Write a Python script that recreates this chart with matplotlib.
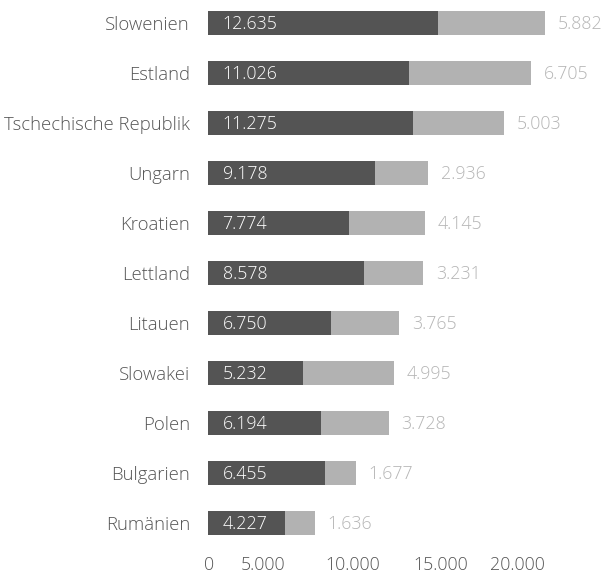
import matplotlib
matplotlib.use("Agg")
import matplotlib.pyplot as plt

# Daten
laender = ["Slowenien", "Estland", "Tschechische Republik", "Ungarn", "Kroatien",
           "Lettland", "Litauen", "Slowakei", "Polen", "Bulgarien", "Rumänien"]
wert_dunkel = [12635, 11026, 11275, 9178, 7774, 8578, 6750, 5232, 6194, 6455, 4227]
wert_hell = [5882, 6705, 5003, 2936, 4145, 3231, 3765, 4995, 3728, 1677, 1636]

tick_labels = ["0", "5.000", "10.000", "15.000", "20.000"]
# positions of the tick labels as they sit in the picture
tick_pos = [80, 3050, 7950, 12800, 17000]

def fmt(v):
    return f"{v:,}".replace(",", ".")

plt.rcParams['font.family'] = ['Open Sans', 'DejaVu Sans']
plt.rcParams['font.weight'] = 'light'

dunkel = "#545454"
hell = "#b2b2b2"
grau_text = "#555555"
fs = 12.8

fig = plt.figure(figsize=(6.04, 5.75), dpi=100)
ax = fig.add_axes([208/604, 27/575, 396/604, 548/575])

y = range(len(laender))
ax.barh(y, wert_dunkel, height=0.48, color=dunkel)
ax.barh(y, wert_hell, left=wert_dunkel, height=0.48, color=hell)

for i, (d, h) in enumerate(zip(wert_dunkel, wert_hell)):
    ax.text(800, i + 0.02, fmt(d), color="white", fontsize=fs, va="center", ha="left")
    ax.text(d + h + 700, i + 0.02, fmt(h), color="#b5b5b5", fontsize=fs,
            va="center", ha="left")

ax.set_yticks(list(y))
ax.set_yticklabels(laender, fontsize=13.3, color=grau_text)
ax.set_xticks(tick_pos)
ax.set_xticklabels(tick_labels, fontsize=fs, color=grau_text)
ax.tick_params(length=0)
ax.tick_params(axis="y", pad=13)
ax.tick_params(axis="x", pad=6)

ax.set_xlim(0, 396/18.2*1000)
ax.set_ylim(10.5, -0.46)
for s in ax.spines.values():
    s.set_visible(False)

fig.savefig("out.png", dpi=100)
